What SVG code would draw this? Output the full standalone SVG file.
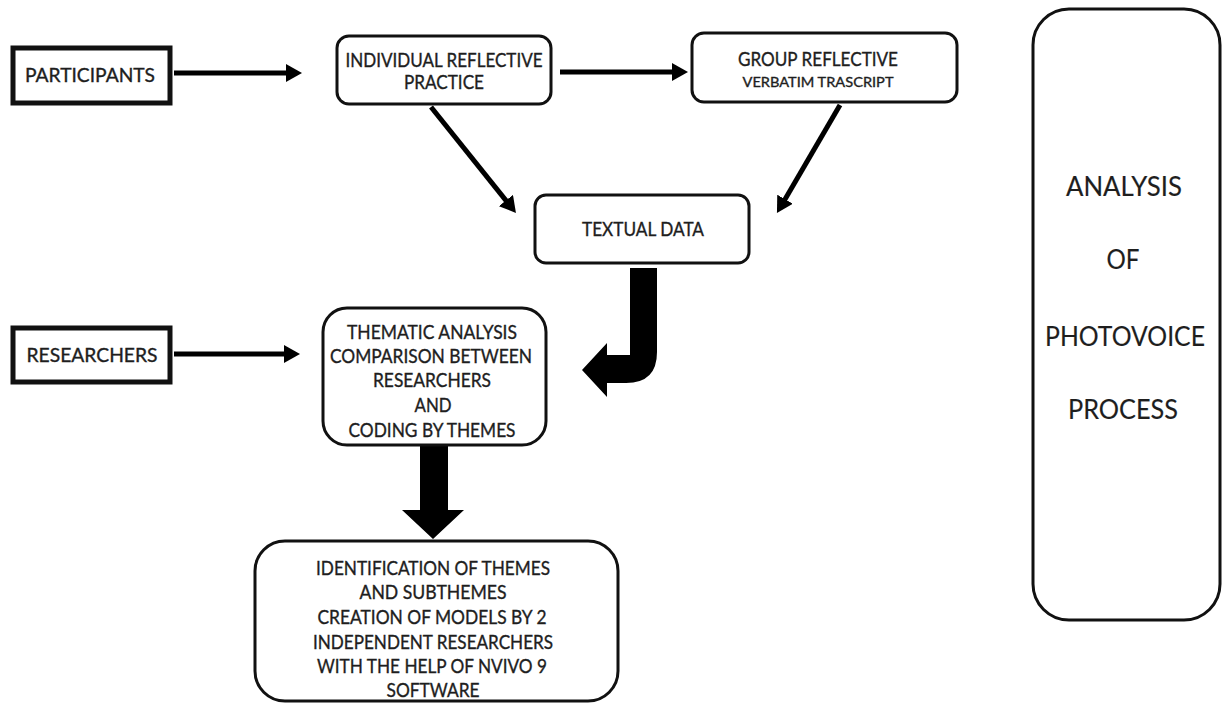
<svg xmlns="http://www.w3.org/2000/svg" width="1223" height="703" viewBox="0 0 1223 703">
<style>
.sq{fill:#fff;stroke:#111;stroke-width:5}
.rb{fill:#fff;stroke:#111;stroke-width:3}
.t{font-family:Lato,"Open Sans","Liberation Sans",sans-serif;font-size:19.5px;fill:#1e1e1e;stroke:#1e1e1e;stroke-width:0.35;text-anchor:middle}
.s{font-size:14px}
.big{font-size:26px;stroke-width:0.15}
.ln{stroke:#000;stroke-width:5;fill:none}
.thick{fill:#000}
</style>
<defs>
<marker id="ah" markerUnits="userSpaceOnUse" markerWidth="16" markerHeight="18" refX="6" refY="9" orient="auto">
<path d="M0,0 L16,9 L0,18 Z" fill="#000"/>
</marker>
</defs>
<rect width="1223" height="703" fill="#fff"/>
<g id="connectors">
<line class="ln" x1="174" y1="73" x2="292" y2="73" marker-end="url(#ah)"/>
<line class="ln" x1="560" y1="72" x2="678" y2="72" marker-end="url(#ah)"/>
<line class="ln" x1="174" y1="354" x2="290" y2="354" marker-end="url(#ah)"/>
<line class="ln" x1="431" y1="107" x2="509.7" y2="205.2" marker-end="url(#ah)"/>
<line class="ln" x1="840" y1="105" x2="782" y2="204.4" marker-end="url(#ah)"/>
<path class="thick" d="M630,268 H657 V352 Q657,383 626,383 H607 V397 L582,370 L607,343 V355 H630 Z"/>
<path class="thick" d="M420,445 H448 V510 H464 L433,539 L402,510 H420 Z"/>
</g>
<g id="participants">
<rect class="sq" x="13" y="48" width="157" height="55"/>
<text class="t" x="90" y="82" textLength="130" lengthAdjust="spacingAndGlyphs">PARTICIPANTS</text>
</g>
<g id="individual">
<rect class="rb" x="337" y="36" width="214" height="68" rx="12"/>
<text class="t" x="444" y="67" textLength="197" lengthAdjust="spacingAndGlyphs">INDIVIDUAL REFLECTIVE</text>
<text class="t" x="444" y="89" textLength="80" lengthAdjust="spacingAndGlyphs">PRACTICE</text>
</g>
<g id="group">
<rect class="rb" x="692" y="33" width="265" height="69" rx="12"/>
<text class="t" x="818" y="66" textLength="160" lengthAdjust="spacingAndGlyphs">GROUP REFLECTIVE</text>
<text class="t s" x="818" y="87" textLength="151" lengthAdjust="spacingAndGlyphs">VERBATIM TRASCRIPT</text>
</g>
<g id="textual">
<rect class="rb" x="535" y="195" width="214" height="68" rx="11"/>
<text class="t" x="643" y="236" textLength="122" lengthAdjust="spacingAndGlyphs">TEXTUAL DATA</text>
</g>
<g id="researchers">
<rect class="sq" x="13" y="328" width="157" height="54"/>
<text class="t" x="92" y="362" textLength="131" lengthAdjust="spacingAndGlyphs">RESEARCHERS</text>
</g>
<g id="thematic">
<rect class="rb" x="323" y="308" width="223" height="137" rx="24"/>
<text class="t" x="432" y="339" textLength="170" lengthAdjust="spacingAndGlyphs">THEMATIC ANALYSIS</text>
<text class="t" x="431" y="363" textLength="202" lengthAdjust="spacingAndGlyphs">COMPARISON BETWEEN</text>
<text class="t" x="432" y="387" textLength="118" lengthAdjust="spacingAndGlyphs">RESEARCHERS</text>
<text class="t" x="433" y="412" textLength="37" lengthAdjust="spacingAndGlyphs">AND</text>
<text class="t" x="432" y="437" textLength="167" lengthAdjust="spacingAndGlyphs">CODING BY THEMES</text>
</g>
<g id="identification">
<rect class="rb" x="255" y="541" width="363" height="160" rx="30"/>
<text class="t" x="433" y="575" textLength="234" lengthAdjust="spacingAndGlyphs">IDENTIFICATION OF THEMES</text>
<text class="t" x="433" y="599" textLength="147" lengthAdjust="spacingAndGlyphs">AND SUBTHEMES</text>
<text class="t" x="432" y="624" textLength="229" lengthAdjust="spacingAndGlyphs">CREATION OF MODELS BY 2</text>
<text class="t" x="433" y="649" textLength="240" lengthAdjust="spacingAndGlyphs">INDEPENDENT RESEARCHERS</text>
<text class="t" x="432" y="673" textLength="230" lengthAdjust="spacingAndGlyphs">WITH THE HELP OF NVIVO 9</text>
<text class="t" x="433" y="697" textLength="93" lengthAdjust="spacingAndGlyphs">SOFTWARE</text>
</g>
<g id="analysis">
<rect class="rb" x="1033" y="9" width="187" height="611" rx="36"/>
<text class="t big" x="1124" y="196" textLength="116" lengthAdjust="spacingAndGlyphs">ANALYSIS</text>
<text class="t big" x="1123" y="269" textLength="33" lengthAdjust="spacingAndGlyphs">OF</text>
<text class="t big" x="1125" y="346" textLength="160" lengthAdjust="spacingAndGlyphs">PHOTOVOICE</text>
<text class="t big" x="1123" y="419" textLength="110" lengthAdjust="spacingAndGlyphs">PROCESS</text>
</g>
</svg>
